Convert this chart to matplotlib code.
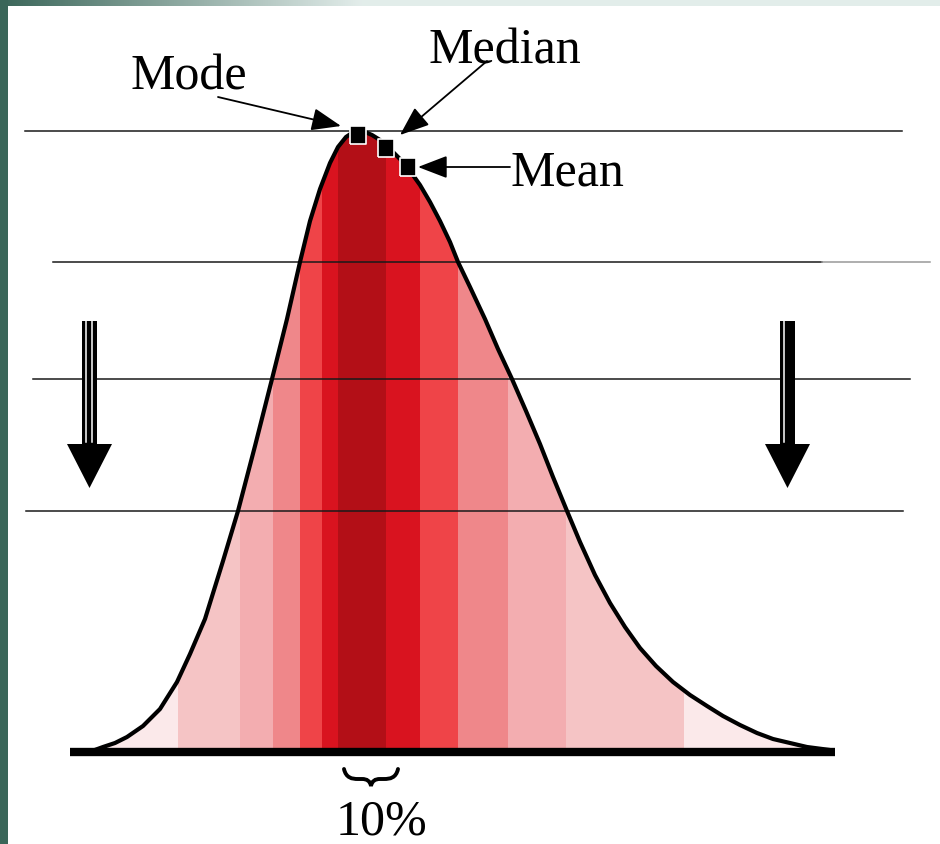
import numpy as np
import matplotlib
matplotlib.use("Agg")
import matplotlib.pyplot as plt
from matplotlib.patches import Polygon, PathPatch
from matplotlib.path import Path

# curve of the skewed distribution (x, height above base line)
curve_x = [92, 103, 115, 127, 143, 160, 177, 190, 205, 223, 238, 255, 272, 287, 300,
           310, 320, 330, 338, 346, 352, 358, 365, 372, 380, 390, 400, 410, 420, 430,
           440, 450, 458, 470, 485, 498, 512, 526, 540, 553, 567, 580, 595, 610, 625,
           640, 656, 673, 690, 707, 723, 740, 757, 773, 790, 807, 830]
curve_h = [1, 5, 9, 15, 26, 43, 70, 98, 133, 191, 241, 306, 373, 433, 490,
           531, 563, 589, 605, 615, 619, 621, 620, 617, 612, 603, 593, 581, 567, 550,
           531, 510, 490, 465, 433, 403, 373, 341, 308, 275, 241, 210, 177, 149, 125,
           104, 86, 70, 57, 46, 36, 27, 19, 13, 9, 5, 2]

# vertical colour bands under the curve
band_edges = [60, 178, 240, 273, 300, 322, 338, 386, 420, 458, 508, 566, 684, 840]
band_shade = [0, 1, 2, 3, 4, 5, 6, 5, 4, 3, 2, 1, 0]
shades = ['#fbe9ea', '#f5c4c5', '#f3adb0', '#ef878a', '#ef4448', '#d9131f', '#b30f17']

# horizontal level lines: height, start, end
level_h = [621, 490, 373, 241]
level_x0 = [25, 53, 33, 26]
level_x1 = [902, 822, 910, 903]

# mode / median / mean markers
stat_names = ['Mode', 'Median', 'Mean']
stat_x = [358, 386, 408]
stat_h = [617, 604, 585]

fig = plt.figure(figsize=(9.4, 8.45), dpi=100)
ax = fig.add_axes([0, 0, 1, 1])
ax.set_xlim(0, 940)
ax.set_ylim(-92, 753)
ax.axis('off')

# slide decoration: left strip and top gradient
grad = np.linspace(0, 1, 400)
top = np.clip(grad * 2.6, 0, 1)
c0 = np.array([0.23, 0.40, 0.35])
c1 = np.array([0.89, 0.93, 0.92])
img = (c0[None, :] * (1 - top[:, None]) + c1[None, :] * top[:, None])[None, :, :]
ax.imshow(img, extent=[0, 940, 746, 753], aspect='auto', zorder=1)
ax.imshow([[c0]], extent=[0, 8, -92, 753], aspect='auto', zorder=1)

# curve outline as clip region
pts = list(zip(curve_x, curve_h)) + [(curve_x[-1], 0), (curve_x[0], 0)]
poly = Polygon(pts, closed=True, facecolor='none', edgecolor='none')
ax.add_patch(poly)

lefts = band_edges[:-1]
widths = np.diff(band_edges)
bars = ax.bar(lefts, [640] * len(lefts), width=widths, align='edge',
              color=[shades[s] for s in band_shade], linewidth=0, zorder=2)
for b in bars:
    b.set_clip_path(poly)

ax.plot(curve_x, curve_h, color='black', lw=3, solid_capstyle='round',
        solid_joinstyle='round', zorder=4)
ax.plot([70, 835], [0, 0], color='black', lw=6, solid_capstyle='butt', zorder=5)

# level lines
for h, a, b in zip(level_h, level_x0, level_x1):
    ax.plot([a, b], [h, h], color='#1a1a1a', lw=1.1, zorder=3)
ax.plot([822, 930], [490, 490], color='#999999', lw=1.1, zorder=3)

tall_square = [(-0.42, -0.5), (0.42, -0.5), (0.42, 0.5), (-0.42, 0.5), (-0.42, -0.5)]
ax.plot(stat_x, stat_h, linestyle='none', marker=tall_square, color='black',
        ms=13, mec='white', mew=1.2, zorder=6)

serif = 'Liberation Serif'
arrow = dict(arrowstyle='-|>,head_length=1.3,head_width=0.5', color='black',
             lw=1.3, shrinkA=0, shrinkB=0, mutation_scale=14)
ax.annotate('', xy=(341, 626), xytext=(218, 655), arrowprops=arrow, zorder=7)
ax.annotate('', xy=(400, 617), xytext=(487, 691), arrowprops=arrow, zorder=7)
ax.annotate('', xy=(418, 585), xytext=(510, 585), arrowprops=arrow, zorder=7)

ax.text(130, 663, stat_names[0], family=serif, fontsize=36, va='baseline')
ax.text(428, 690, stat_names[1], family=serif, fontsize=36, va='baseline')
ax.text(510, 567, stat_names[2], family=serif, fontsize=36, va='baseline')

# down arrows at the sides
for cx, white in [(89.5, [85.5, 91.8]), (787.5, [783.5])]:
    ax.fill([cx - 7.5, cx + 7.5, cx + 7.5, cx - 7.5], [431, 431, 306, 306],
            color='black', lw=0, zorder=4)
    for wx in white:
        ax.plot([wx, wx], [431, 310], color='white', lw=1.1, zorder=4)
    ax.fill([cx - 22.5, cx + 22.5, cx], [308, 308, 264], color='black', lw=0, zorder=4)

# brace and label under the mode band
verts = [(344, -17), (346, -26), (352, -27), (358, -27), (362, -27),
         (367, -27), (370, -29), (371, -34),
         (372, -29), (375, -27), (380, -27), (384, -27),
         (390, -27), (396, -26), (398, -17)]
codes = [Path.MOVETO, Path.CURVE4, Path.CURVE4, Path.CURVE4, Path.LINETO,
         Path.CURVE4, Path.CURVE4, Path.CURVE4,
         Path.CURVE4, Path.CURVE4, Path.CURVE4, Path.LINETO,
         Path.CURVE4, Path.CURVE4, Path.CURVE4]
ax.add_patch(PathPatch(Path(verts, codes), facecolor='none', edgecolor='black',
                       lw=2.8, capstyle='round', zorder=5))
ax.text(381, -82, '10%', family=serif, fontsize=36, ha='center', va='baseline')

fig.savefig('out.png', dpi=100)
